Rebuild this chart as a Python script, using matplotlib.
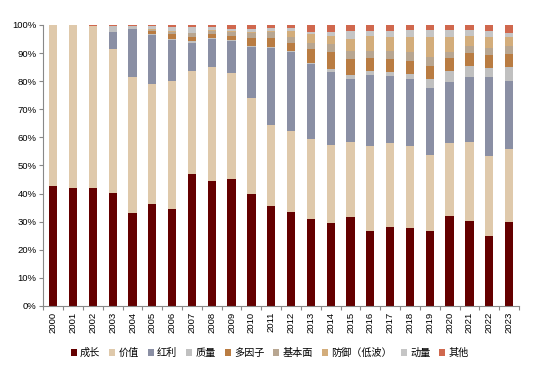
import matplotlib
matplotlib.use("Agg")
import matplotlib.pyplot as plt
import numpy as np

plt.rcParams['font.family'] = ['Liberation Sans', 'Noto Sans CJK SC', 'DejaVu Sans']

years = [str(y) for y in range(2000, 2024)]
categories = ["成长", "价值", "红利", "质量", "多因子", "基本面", "防御（低波）", "动量", "其他"]

growth   = [42.7, 41.9, 41.9, 40.1, 33.2, 36.2, 34.6, 47.0, 44.5, 45.2, 40.0, 35.7, 33.3, 31.0, 29.5, 31.6, 26.7, 28.1, 27.9, 26.8, 32.0, 30.2, 24.8, 29.8]
value    = [57.3, 58.1, 57.6, 51.2, 48.2, 42.7, 45.5, 36.6, 40.6, 37.8, 34.1, 28.7, 29.0, 28.3, 27.9, 26.8, 30.4, 29.8, 29.2, 26.9, 25.9, 28.2, 28.7, 26.0]
dividend = [0.0, 0.0, 0.0, 6.3, 17.2, 17.5, 14.7, 10.1, 10.0, 11.4, 18.2, 27.5, 28.0, 26.7, 26.0, 22.5, 25.2, 24.0, 23.6, 24.0, 21.9, 23.2, 28.1, 24.4]
quality  = [0.0, 0.0, 0.0, 2.0, 1.2, 0.3, 0.3, 0.5, 0.3, 0.3, 0.3, 0.3, 0.3, 0.6, 0.9, 1.3, 1.4, 1.5, 1.7, 3.0, 3.8, 3.7, 3.2, 5.0]
multifac = [0.0, 0.0, 0.0, 0.0, 0.0, 1.2, 1.8, 1.5, 1.5, 1.4, 2.9, 3.3, 3.1, 5.0, 6.2, 5.8, 4.7, 4.4, 4.9, 4.8, 4.8, 4.9, 4.6, 4.6]
fundam   = [0.0, 0.0, 0.0, 0.0, 0.0, 0.3, 0.7, 1.3, 1.0, 1.3, 1.7, 1.9, 1.9, 2.1, 2.6, 2.6, 2.5, 3.1, 3.0, 3.0, 2.0, 2.3, 2.5, 2.9]
defense  = [0.0, 0.0, 0.0, 0.0, 0.0, 0.2, 0.3, 0.3, 0.3, 0.3, 0.3, 0.4, 2.3, 3.0, 3.1, 4.3, 5.3, 4.9, 5.5, 7.3, 5.4, 3.7, 3.9, 3.1]
momentum = [0.0, 0.0, 0.0, 0.0, 0.0, 1.1, 1.3, 1.9, 1.0, 1.0, 1.1, 1.0, 1.0, 0.9, 1.2, 2.8, 1.8, 2.2, 2.5, 2.3, 2.4, 2.0, 1.9, 1.2]
others   = [0.0, 0.0, 0.5, 0.4, 0.2, 0.5, 0.8, 0.8, 0.8, 1.3, 1.4, 1.2, 1.1, 2.4, 2.6, 2.3, 2.0, 2.0, 1.7, 1.9, 1.8, 1.8, 2.3, 3.0]

series = [growth, value, dividend, quality, multifac, fundam, defense, momentum, others]
colors = ["#640000", "#dfc9ab", "#8a8fa4", "#c0c0c0", "#b97c42", "#b8a691", "#d3ad7b", "#c5c5c5", "#d0684e"]

fig = plt.figure(figsize=(5.46, 3.9), dpi=100)
ax = fig.add_axes([0.0793, 0.2154, 0.8712, 0.7205])

x = np.arange(len(years))
bottom = np.zeros(len(years))
handles = []
for name, vals, c in zip(categories, series, colors):
    v = np.array(vals)
    b = ax.bar(x, v, width=0.42, bottom=bottom, color=c, label=name, linewidth=0)
    handles.append(b)
    bottom += v

ax.set_xlim(-0.5, len(years) - 0.5)
ax.set_ylim(0, 100)
ax.set_yticks(np.arange(0, 101, 10))
ax.set_yticklabels([f"{v}%" for v in range(0, 101, 10)], fontsize=6.8)
ax.set_xticks(x)
ax.set_xticklabels(years, rotation=90, fontsize=6.8)
ax.set_xticks(np.arange(-0.5, len(years), 1), minor=True)
ax.tick_params(axis='x', which='major', length=0, pad=4)
ax.tick_params(axis='x', which='minor', length=3, color='#888888', width=0.8)
ax.tick_params(axis='y', length=3, color='#888888', width=0.8, pad=2)

for s in ['top', 'right']:
    ax.spines[s].set_visible(False)
for s in ['left', 'bottom']:
    ax.spines[s].set_color('#888888')
    ax.spines[s].set_linewidth(0.8)

leg = fig.legend(handles=handles, labels=categories, loc='center',
                 bbox_to_anchor=(0.494, 0.095), ncol=9, frameon=False,
                 handlelength=0.6, handleheight=0.6, handletextpad=0.3,
                 columnspacing=0.9, prop={'family': ['Noto Sans CJK SC'], 'size': 7.3})

fig.savefig("out.png", dpi=100)
